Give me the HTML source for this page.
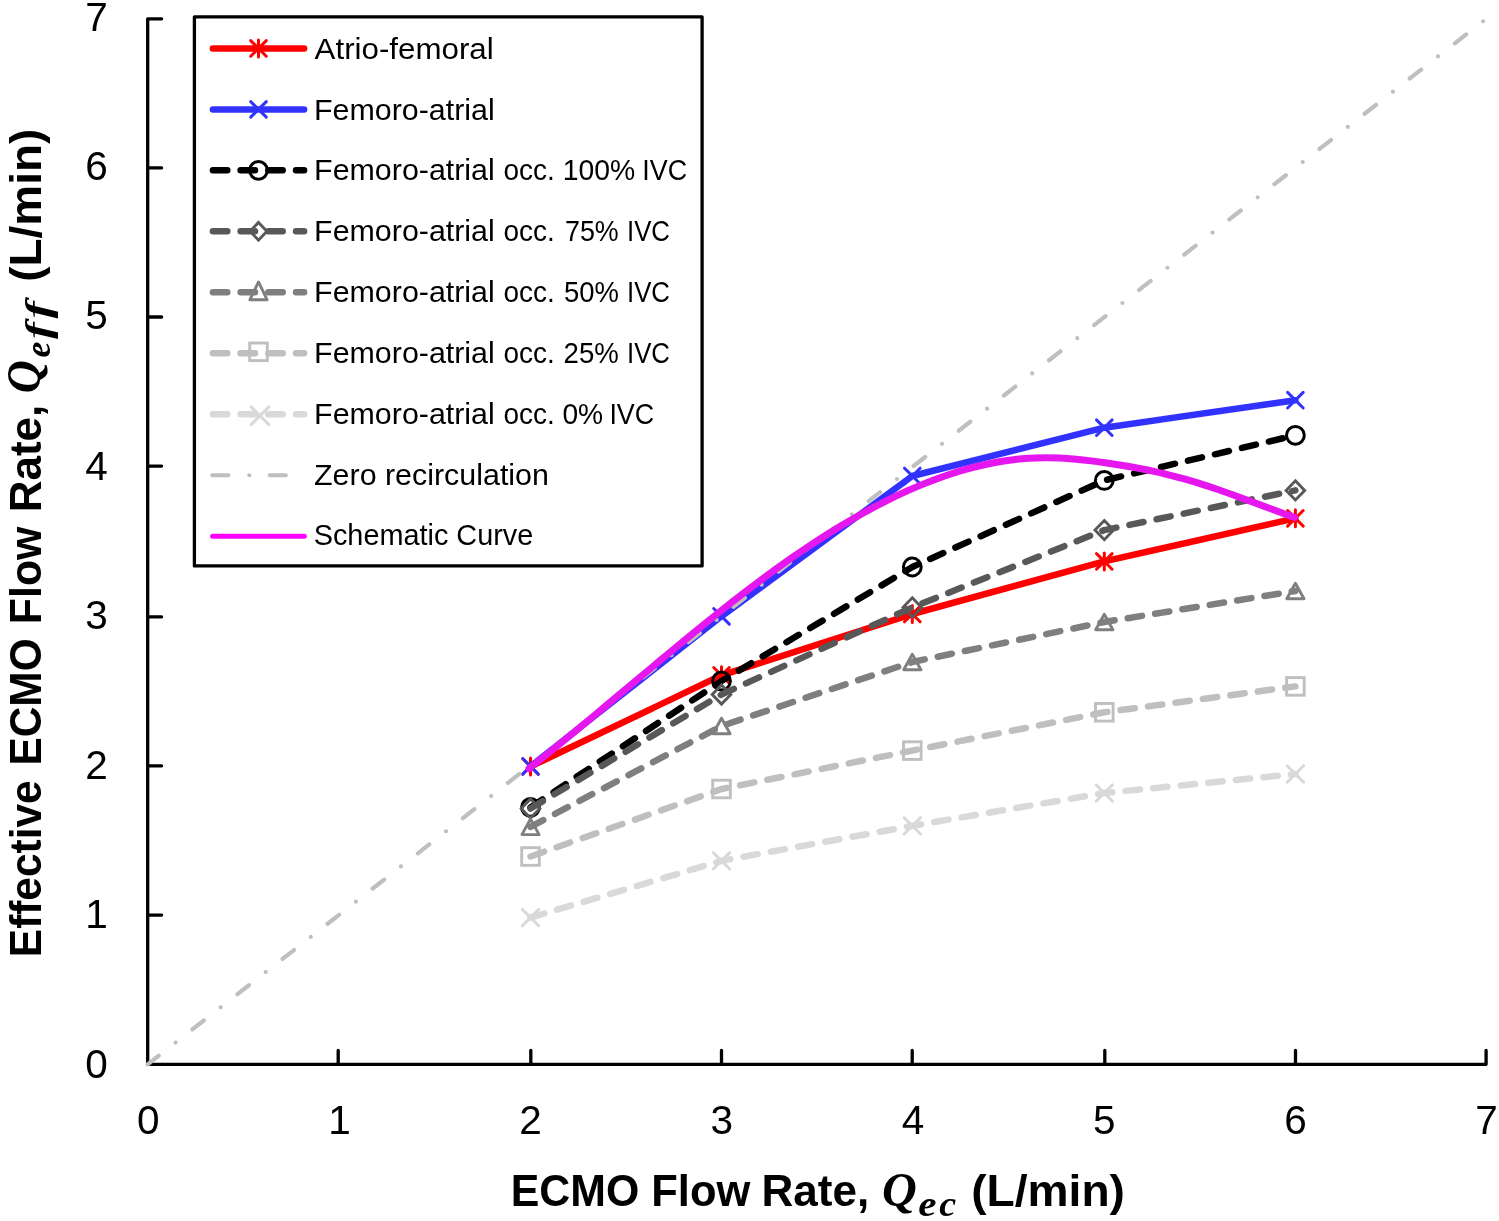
<!DOCTYPE html>
<html><head><meta charset="utf-8"><style>
html,body{margin:0;padding:0;background:#fff;width:1499px;height:1221px;overflow:hidden}
svg{display:block}

</style></head><body>
<svg width="1499" height="1221" viewBox="0 0 1499 1221">
<defs><filter id="soft" x="0" y="0" width="1499" height="1221" filterUnits="userSpaceOnUse"><feGaussianBlur stdDeviation="0.5"/></filter></defs>
<rect width="1499" height="1221" fill="#fff"/>
<g filter="url(#soft)">
<path d="M161.60,18.85 H147.70 V1064.30 H1486.10 V1050.50 M147.70,915.10 h13.9 M338.20,1064.30 v-13.8 M147.70,765.80 h13.9 M530.80,1064.30 v-13.8 M147.70,616.80 h13.9 M721.50,1064.30 v-13.8 M147.70,466.10 h13.9 M912.20,1064.30 v-13.8 M147.70,317.00 h13.9 M1104.80,1064.30 v-13.8 M147.70,167.90 h13.9 M1295.50,1064.30 v-13.8" fill="none" stroke="#000" stroke-width="3.3" stroke-linecap="round" stroke-linejoin="round"/>
<text x="107.8" y="1078.03" font-family="Liberation Sans, sans-serif" font-size="40.5" text-anchor="end" fill="#000">0</text>
<text x="148.20" y="1133.6" font-family="Liberation Sans, sans-serif" font-size="40.5" text-anchor="middle" fill="#000">0</text>
<text x="107.8" y="927.73" font-family="Liberation Sans, sans-serif" font-size="40.5" text-anchor="end" fill="#000">1</text>
<text x="339.40" y="1133.6" font-family="Liberation Sans, sans-serif" font-size="40.5" text-anchor="middle" fill="#000">1</text>
<text x="107.8" y="778.73" font-family="Liberation Sans, sans-serif" font-size="40.5" text-anchor="end" fill="#000">2</text>
<text x="530.60" y="1133.6" font-family="Liberation Sans, sans-serif" font-size="40.5" text-anchor="middle" fill="#000">2</text>
<text x="107.8" y="629.13" font-family="Liberation Sans, sans-serif" font-size="40.5" text-anchor="end" fill="#000">3</text>
<text x="721.80" y="1133.6" font-family="Liberation Sans, sans-serif" font-size="40.5" text-anchor="middle" fill="#000">3</text>
<text x="107.8" y="480.03" font-family="Liberation Sans, sans-serif" font-size="40.5" text-anchor="end" fill="#000">4</text>
<text x="913.00" y="1133.6" font-family="Liberation Sans, sans-serif" font-size="40.5" text-anchor="middle" fill="#000">4</text>
<text x="107.8" y="329.38" font-family="Liberation Sans, sans-serif" font-size="40.5" text-anchor="end" fill="#000">5</text>
<text x="1104.20" y="1133.6" font-family="Liberation Sans, sans-serif" font-size="40.5" text-anchor="middle" fill="#000">5</text>
<text x="107.8" y="179.83" font-family="Liberation Sans, sans-serif" font-size="40.5" text-anchor="end" fill="#000">6</text>
<text x="1295.40" y="1133.6" font-family="Liberation Sans, sans-serif" font-size="40.5" text-anchor="middle" fill="#000">6</text>
<text x="107.8" y="30.98" font-family="Liberation Sans, sans-serif" font-size="40.5" text-anchor="end" fill="#000">7</text>
<text x="1486.60" y="1133.6" font-family="Liberation Sans, sans-serif" font-size="40.5" text-anchor="middle" fill="#000">7</text>
<g fill="#000"><text x="510.74" y="1206.20" font-family="Liberation Sans, sans-serif" font-weight="bold" font-style="normal" font-size="44.8" textLength="128.46" lengthAdjust="spacingAndGlyphs" style="font-variant-ligatures:none;font-kerning:none" >ECMO</text><text x="651.29" y="1206.20" font-family="Liberation Sans, sans-serif" font-weight="bold" font-style="normal" font-size="44.8" textLength="99.02" lengthAdjust="spacingAndGlyphs" style="font-variant-ligatures:none;font-kerning:none" >Flow</text><text x="761.45" y="1206.20" font-family="Liberation Sans, sans-serif" font-weight="bold" font-style="normal" font-size="44.8" textLength="107.69" lengthAdjust="spacingAndGlyphs" style="font-variant-ligatures:none;font-kerning:none" >Rate,</text><text x="882.06" y="1205.80" font-family="Liberation Serif, serif" font-weight="bold" font-style="italic" font-size="48" textLength="34.81" lengthAdjust="spacingAndGlyphs" style="font-variant-ligatures:none;font-kerning:none" >Q</text><text x="918.34" y="1216.00" font-family="Liberation Serif, serif" font-weight="bold" font-style="italic" font-size="35" textLength="18.27" lengthAdjust="spacingAndGlyphs" style="font-variant-ligatures:none;font-kerning:none" >e</text><text x="939.34" y="1216.00" font-family="Liberation Serif, serif" font-weight="bold" font-style="italic" font-size="35" textLength="16.92" lengthAdjust="spacingAndGlyphs" style="font-variant-ligatures:none;font-kerning:none" >c</text><text x="971.20" y="1206.20" font-family="Liberation Sans, sans-serif" font-weight="bold" font-style="normal" font-size="44.8" textLength="153.80" lengthAdjust="spacingAndGlyphs" style="font-variant-ligatures:none;font-kerning:none" >(L/min)</text></g>
<g transform="rotate(-90)" fill="#000"><text x="-957.14" y="40.50" font-family="Liberation Sans, sans-serif" font-weight="bold" font-style="normal" font-size="44.8" textLength="176.68" lengthAdjust="spacingAndGlyphs" style="font-variant-ligatures:none;font-kerning:none" >Effective</text><text x="-765.54" y="40.50" font-family="Liberation Sans, sans-serif" font-weight="bold" font-style="normal" font-size="44.8" textLength="127.22" lengthAdjust="spacingAndGlyphs" style="font-variant-ligatures:none;font-kerning:none" >ECMO</text><text x="-624.16" y="40.50" font-family="Liberation Sans, sans-serif" font-weight="bold" font-style="normal" font-size="44.8" textLength="97.48" lengthAdjust="spacingAndGlyphs" style="font-variant-ligatures:none;font-kerning:none" >Flow</text><text x="-512.34" y="40.50" font-family="Liberation Sans, sans-serif" font-weight="bold" font-style="normal" font-size="44.8" textLength="107.59" lengthAdjust="spacingAndGlyphs" style="font-variant-ligatures:none;font-kerning:none" >Rate,</text><text x="-393.35" y="40.00" font-family="Liberation Serif, serif" font-weight="bold" font-style="italic" font-size="48" textLength="33.05" lengthAdjust="spacingAndGlyphs" style="font-variant-ligatures:none;font-kerning:none" >Q</text><text x="-357.54" y="50.00" font-family="Liberation Serif, serif" font-weight="bold" font-style="italic" font-size="35" textLength="15.82" lengthAdjust="spacingAndGlyphs" style="font-variant-ligatures:none;font-kerning:none" >e</text><text x="-338.90" y="50.00" font-family="Liberation Serif, serif" font-weight="bold" font-style="italic" font-size="35" textLength="16.73" lengthAdjust="spacingAndGlyphs" style="font-variant-ligatures:none;font-kerning:none" >f</text><text x="-318.60" y="50.00" font-family="Liberation Serif, serif" font-weight="bold" font-style="italic" font-size="35" textLength="17.29" lengthAdjust="spacingAndGlyphs" style="font-variant-ligatures:none;font-kerning:none" >f</text><text x="-281.68" y="40.50" font-family="Liberation Sans, sans-serif" font-weight="bold" font-style="normal" font-size="44.8" textLength="152.87" lengthAdjust="spacingAndGlyphs" style="font-variant-ligatures:none;font-kerning:none" >(L/min)</text></g>
<path d="M530.50,766.50 L721.50,675.30 L912.30,614.00 L1104.30,561.40 L1295.40,518.30" fill="none" stroke="#ff0000" stroke-width="6.5" stroke-linecap="round" stroke-linejoin="round"/>
<path d="M522.70,758.70 L538.30,774.30 M522.70,774.30 L538.30,758.70 M530.50,758.00 V775.00" stroke="#ff0000" stroke-width="3.0" stroke-linecap="round" fill="none"/>
<path d="M713.70,667.50 L729.30,683.10 M713.70,683.10 L729.30,667.50 M721.50,666.80 V683.80" stroke="#ff0000" stroke-width="3.0" stroke-linecap="round" fill="none"/>
<path d="M904.50,606.20 L920.10,621.80 M904.50,621.80 L920.10,606.20 M912.30,605.50 V622.50" stroke="#ff0000" stroke-width="3.0" stroke-linecap="round" fill="none"/>
<path d="M1096.50,553.60 L1112.10,569.20 M1096.50,569.20 L1112.10,553.60 M1104.30,552.90 V569.90" stroke="#ff0000" stroke-width="3.0" stroke-linecap="round" fill="none"/>
<path d="M1287.60,510.50 L1303.20,526.10 M1287.60,526.10 L1303.20,510.50 M1295.40,509.80 V526.80" stroke="#ff0000" stroke-width="3.0" stroke-linecap="round" fill="none"/>
<path d="M530.50,766.30 L721.50,616.30 L912.30,476.00 L1104.30,427.70 L1295.40,400.20" fill="none" stroke="#3333ff" stroke-width="6.5" stroke-linecap="round" stroke-linejoin="round"/>
<path d="M522.70,758.50 L538.30,774.10 M522.70,774.10 L538.30,758.50" stroke="#3333ff" stroke-width="3.0" stroke-linecap="round" fill="none"/>
<path d="M713.70,608.50 L729.30,624.10 M713.70,624.10 L729.30,608.50" stroke="#3333ff" stroke-width="3.0" stroke-linecap="round" fill="none"/>
<path d="M904.50,468.20 L920.10,483.80 M904.50,483.80 L920.10,468.20" stroke="#3333ff" stroke-width="3.0" stroke-linecap="round" fill="none"/>
<path d="M1096.50,419.90 L1112.10,435.50 M1096.50,435.50 L1112.10,419.90" stroke="#3333ff" stroke-width="3.0" stroke-linecap="round" fill="none"/>
<path d="M1287.60,392.40 L1303.20,408.00 M1287.60,408.00 L1303.20,392.40" stroke="#3333ff" stroke-width="3.0" stroke-linecap="round" fill="none"/>
<path d="M530.50,807.40 L721.50,681.00 L912.30,567.00 L1104.30,480.40 L1295.40,435.30" fill="none" stroke="#000000" stroke-width="6.5" stroke-linecap="round" stroke-linejoin="round" stroke-dasharray="14.4 13.3"/>
<circle cx="530.50" cy="807.40" r="8.9" stroke="#000000" stroke-width="3.0" fill="none"/>
<circle cx="721.50" cy="681.00" r="8.9" stroke="#000000" stroke-width="3.0" fill="none"/>
<circle cx="912.30" cy="567.00" r="8.9" stroke="#000000" stroke-width="3.0" fill="none"/>
<circle cx="1104.30" cy="480.40" r="8.9" stroke="#000000" stroke-width="3.0" fill="none"/>
<circle cx="1295.40" cy="435.30" r="8.9" stroke="#000000" stroke-width="3.0" fill="none"/>
<path d="M530.50,808.50 L721.50,694.50 L912.30,607.40 L1104.30,530.10 L1295.40,490.40" fill="none" stroke="#595959" stroke-width="6.5" stroke-linecap="round" stroke-linejoin="round" stroke-dasharray="14.4 13.3"/>
<path d="M530.50,798.90 L539.80,808.50 L530.50,818.10 L521.20,808.50 Z" stroke="#595959" stroke-width="2.9" fill="none" stroke-linejoin="miter"/>
<path d="M721.50,684.90 L730.80,694.50 L721.50,704.10 L712.20,694.50 Z" stroke="#595959" stroke-width="2.9" fill="none" stroke-linejoin="miter"/>
<path d="M912.30,597.80 L921.60,607.40 L912.30,617.00 L903.00,607.40 Z" stroke="#595959" stroke-width="2.9" fill="none" stroke-linejoin="miter"/>
<path d="M1104.30,520.50 L1113.60,530.10 L1104.30,539.70 L1095.00,530.10 Z" stroke="#595959" stroke-width="2.9" fill="none" stroke-linejoin="miter"/>
<path d="M1295.40,480.80 L1304.70,490.40 L1295.40,500.00 L1286.10,490.40 Z" stroke="#595959" stroke-width="2.9" fill="none" stroke-linejoin="miter"/>
<path d="M530.50,826.80 L721.50,726.00 L912.30,662.00 L1104.30,622.00 L1295.40,591.00" fill="none" stroke="#7f7f7f" stroke-width="6.5" stroke-linecap="round" stroke-linejoin="round" stroke-dasharray="14.4 13.3"/>
<path d="M530.50,819.00 L539.10,834.60 L521.90,834.60 Z" stroke="#7f7f7f" stroke-width="2.9" fill="none" stroke-linejoin="round"/>
<path d="M721.50,718.20 L730.10,733.80 L712.90,733.80 Z" stroke="#7f7f7f" stroke-width="2.9" fill="none" stroke-linejoin="round"/>
<path d="M912.30,654.20 L920.90,669.80 L903.70,669.80 Z" stroke="#7f7f7f" stroke-width="2.9" fill="none" stroke-linejoin="round"/>
<path d="M1104.30,614.20 L1112.90,629.80 L1095.70,629.80 Z" stroke="#7f7f7f" stroke-width="2.9" fill="none" stroke-linejoin="round"/>
<path d="M1295.40,583.20 L1304.00,598.80 L1286.80,598.80 Z" stroke="#7f7f7f" stroke-width="2.9" fill="none" stroke-linejoin="round"/>
<path d="M530.50,856.50 L721.50,789.00 L912.30,750.60 L1104.30,712.30 L1295.40,686.40" fill="none" stroke="#bfbfbf" stroke-width="6.5" stroke-linecap="round" stroke-linejoin="round" stroke-dasharray="14.4 13.3"/>
<rect x="521.70" y="847.70" width="17.60" height="17.60" stroke="#bfbfbf" stroke-width="2.9" fill="none"/>
<rect x="712.70" y="780.20" width="17.60" height="17.60" stroke="#bfbfbf" stroke-width="2.9" fill="none"/>
<rect x="903.50" y="741.80" width="17.60" height="17.60" stroke="#bfbfbf" stroke-width="2.9" fill="none"/>
<rect x="1095.50" y="703.50" width="17.60" height="17.60" stroke="#bfbfbf" stroke-width="2.9" fill="none"/>
<rect x="1286.60" y="677.60" width="17.60" height="17.60" stroke="#bfbfbf" stroke-width="2.9" fill="none"/>
<path d="M530.50,917.60 L721.50,860.80 L912.30,825.80 L1104.30,793.00 L1295.40,774.00" fill="none" stroke="#d9d9d9" stroke-width="6.5" stroke-linecap="round" stroke-linejoin="round" stroke-dasharray="14.4 13.3"/>
<path d="M522.30,909.40 L538.70,925.80 M522.30,925.80 L538.70,909.40" stroke="#d9d9d9" stroke-width="3.0" stroke-linecap="round" fill="none"/>
<path d="M713.30,852.60 L729.70,869.00 M713.30,869.00 L729.70,852.60" stroke="#d9d9d9" stroke-width="3.0" stroke-linecap="round" fill="none"/>
<path d="M904.10,817.60 L920.50,834.00 M904.10,834.00 L920.50,817.60" stroke="#d9d9d9" stroke-width="3.0" stroke-linecap="round" fill="none"/>
<path d="M1096.10,784.80 L1112.50,801.20 M1096.10,801.20 L1112.50,784.80" stroke="#d9d9d9" stroke-width="3.0" stroke-linecap="round" fill="none"/>
<path d="M1287.20,765.80 L1303.60,782.20 M1287.20,782.20 L1303.60,765.80" stroke="#d9d9d9" stroke-width="3.0" stroke-linecap="round" fill="none"/>
<path d="M147.70,1064.30 L1486.10,18.85" stroke="#bfbfbf" stroke-width="4.2" stroke-linecap="round" fill="none" stroke-dasharray="14.5 21.355 0 21.355" stroke-dashoffset="0.51"/>
<path d="M529.00,768.50 C531.60,766.44 539.41,760.28 544.62,756.12 C549.83,751.96 555.03,747.76 560.24,743.53 C565.45,739.30 570.66,735.03 575.87,730.75 C581.08,726.47 586.28,722.15 591.49,717.83 C596.70,713.51 601.90,709.16 607.11,704.81 C612.32,700.46 617.52,696.09 622.73,691.73 C627.94,687.37 633.15,683.00 638.36,678.64 C643.57,674.28 648.77,669.92 653.98,665.57 C659.19,661.23 664.39,656.89 669.60,652.57 C674.81,648.25 680.01,643.95 685.22,639.68 C690.43,635.41 695.64,631.15 700.85,626.93 C706.06,622.71 711.26,618.53 716.47,614.38 C721.68,610.23 726.88,606.11 732.09,602.05 C737.30,597.99 742.50,593.96 747.71,590.00 C752.92,586.04 758.13,582.12 763.34,578.27 C768.55,574.42 773.75,570.62 778.96,566.89 C784.17,563.16 789.37,559.49 794.58,555.90 C799.79,552.31 804.99,548.78 810.20,545.33 C815.41,541.88 820.62,538.51 825.83,535.22 C831.04,531.93 836.24,528.71 841.45,525.58 C846.66,522.45 851.86,519.40 857.07,516.45 C862.28,513.50 867.48,510.63 872.69,507.86 C877.90,505.09 883.11,502.41 888.32,499.84 C893.53,497.26 898.73,494.78 903.94,492.41 C909.15,490.04 914.35,487.77 919.56,485.61 C924.77,483.45 929.97,481.40 935.18,479.46 C940.39,477.52 945.60,475.69 950.81,473.99 C956.02,472.29 961.22,470.70 966.43,469.24 C971.64,467.78 976.84,466.43 982.05,465.23 C987.26,464.03 992.46,462.95 997.67,462.03 C1002.88,461.10 1008.09,460.31 1013.30,459.68 C1018.51,459.05 1023.71,458.56 1028.92,458.23 C1034.13,457.90 1039.33,457.74 1044.54,457.72 C1049.75,457.70 1054.95,457.84 1060.16,458.09 C1065.37,458.34 1070.58,458.73 1075.79,459.20 C1081.00,459.67 1086.20,460.25 1091.41,460.89 C1096.62,461.53 1101.82,462.26 1107.03,463.03 C1112.24,463.79 1117.44,464.61 1122.65,465.48 C1127.86,466.35 1133.07,467.28 1138.28,468.27 C1143.49,469.26 1148.69,470.31 1153.90,471.44 C1159.11,472.57 1164.31,473.77 1169.52,475.06 C1174.73,476.35 1179.93,477.73 1185.14,479.20 C1190.35,480.67 1195.56,482.25 1200.77,483.88 C1205.98,485.51 1211.18,487.24 1216.39,489.01 C1221.60,490.78 1226.80,492.62 1232.01,494.48 C1237.22,496.34 1242.42,498.26 1247.63,500.18 C1252.84,502.10 1258.05,504.05 1263.26,505.99 C1268.47,507.93 1273.67,509.88 1278.88,511.80 C1284.09,513.72 1291.90,516.55 1294.50,517.50" stroke="#e619ef" stroke-width="7" stroke-linecap="round" stroke-linejoin="round" fill="none"/>
<rect x="194.4" y="16.9" width="507.7" height="549" fill="#fff" stroke="#000" stroke-width="3.3" stroke-linejoin="round"/>
<text x="314.64" y="58.70" font-family="Liberation Sans, sans-serif" font-weight="normal" font-style="normal" font-size="30" textLength="179.05" lengthAdjust="spacingAndGlyphs" style="font-variant-ligatures:none;font-kerning:none" fill="#000">Atrio-femoral</text>
<path d="M212.9,48.40 H304.1" stroke="#ff0000" stroke-width="6.5" stroke-linecap="round"/><path d="M250.70,40.60 L266.30,56.20 M250.70,56.20 L266.30,40.60 M258.50,39.90 V56.90" stroke="#ff0000" stroke-width="3.0" stroke-linecap="round" fill="none"/>
<text x="314.01" y="119.53" font-family="Liberation Sans, sans-serif" font-weight="normal" font-style="normal" font-size="30" textLength="180.73" lengthAdjust="spacingAndGlyphs" style="font-variant-ligatures:none;font-kerning:none" fill="#000">Femoro-atrial</text>
<path d="M212.9,109.38 H304.1" stroke="#3333ff" stroke-width="6.5" stroke-linecap="round"/><path d="M250.70,101.58 L266.30,117.18 M250.70,117.18 L266.30,101.58" stroke="#3333ff" stroke-width="3.0" stroke-linecap="round" fill="none"/>
<text x="314.11" y="180.36" font-family="Liberation Sans, sans-serif" font-weight="normal" font-style="normal" font-size="30" textLength="180.62" lengthAdjust="spacingAndGlyphs" style="font-variant-ligatures:none;font-kerning:none" fill="#000">Femoro-atrial</text>
<text x="503.52" y="180.36" font-family="Liberation Sans, sans-serif" font-weight="normal" font-style="normal" font-size="30" textLength="51.33" lengthAdjust="spacingAndGlyphs" style="font-variant-ligatures:none;font-kerning:none" fill="#000">occ.</text>
<text x="562.84" y="180.36" font-family="Liberation Sans, sans-serif" font-weight="normal" font-style="normal" font-size="30" textLength="72.47" lengthAdjust="spacingAndGlyphs" style="font-variant-ligatures:none;font-kerning:none" fill="#000">100%</text>
<text x="642.32" y="180.36" font-family="Liberation Sans, sans-serif" font-weight="normal" font-style="normal" font-size="30" textLength="44.80" lengthAdjust="spacingAndGlyphs" style="font-variant-ligatures:none;font-kerning:none" fill="#000">IVC</text>
<path d="M212.9,170.36 H304.1" stroke="#000000" stroke-width="6.5" stroke-linecap="round" stroke-dasharray="14.4 13.3"/>
<circle cx="258.50" cy="170.36" r="8.9" stroke="#000000" stroke-width="3.0" fill="none"/>
<text x="314.11" y="241.19" font-family="Liberation Sans, sans-serif" font-weight="normal" font-style="normal" font-size="30" textLength="180.62" lengthAdjust="spacingAndGlyphs" style="font-variant-ligatures:none;font-kerning:none" fill="#000">Femoro-atrial</text>
<text x="503.52" y="241.19" font-family="Liberation Sans, sans-serif" font-weight="normal" font-style="normal" font-size="30" textLength="51.33" lengthAdjust="spacingAndGlyphs" style="font-variant-ligatures:none;font-kerning:none" fill="#000">occ.</text>
<text x="565.02" y="241.19" font-family="Liberation Sans, sans-serif" font-weight="normal" font-style="normal" font-size="30" textLength="53.73" lengthAdjust="spacingAndGlyphs" style="font-variant-ligatures:none;font-kerning:none" fill="#000">75%</text>
<text x="627.02" y="241.19" font-family="Liberation Sans, sans-serif" font-weight="normal" font-style="normal" font-size="30" textLength="42.96" lengthAdjust="spacingAndGlyphs" style="font-variant-ligatures:none;font-kerning:none" fill="#000">IVC</text>
<path d="M212.9,231.34 H304.1" stroke="#595959" stroke-width="6.5" stroke-linecap="round" stroke-dasharray="14.4 13.3"/>
<path d="M258.50,222.44 L266.90,231.34 L258.50,240.24 L250.10,231.34 Z" stroke="#595959" stroke-width="2.9" fill="none" stroke-linejoin="miter"/>
<text x="314.11" y="302.02" font-family="Liberation Sans, sans-serif" font-weight="normal" font-style="normal" font-size="30" textLength="180.62" lengthAdjust="spacingAndGlyphs" style="font-variant-ligatures:none;font-kerning:none" fill="#000">Femoro-atrial</text>
<text x="503.52" y="302.02" font-family="Liberation Sans, sans-serif" font-weight="normal" font-style="normal" font-size="30" textLength="51.33" lengthAdjust="spacingAndGlyphs" style="font-variant-ligatures:none;font-kerning:none" fill="#000">occ.</text>
<text x="563.90" y="302.02" font-family="Liberation Sans, sans-serif" font-weight="normal" font-style="normal" font-size="30" textLength="54.88" lengthAdjust="spacingAndGlyphs" style="font-variant-ligatures:none;font-kerning:none" fill="#000">50%</text>
<text x="627.02" y="302.02" font-family="Liberation Sans, sans-serif" font-weight="normal" font-style="normal" font-size="30" textLength="42.96" lengthAdjust="spacingAndGlyphs" style="font-variant-ligatures:none;font-kerning:none" fill="#000">IVC</text>
<path d="M212.9,292.32 H304.1" stroke="#7f7f7f" stroke-width="6.5" stroke-linecap="round" stroke-dasharray="14.4 13.3"/>
<path d="M258.50,281.97 L267.15,299.77 L249.85,299.77 Z" stroke="#7f7f7f" stroke-width="2.9" fill="none" stroke-linejoin="round"/>
<text x="314.11" y="362.85" font-family="Liberation Sans, sans-serif" font-weight="normal" font-style="normal" font-size="30" textLength="180.62" lengthAdjust="spacingAndGlyphs" style="font-variant-ligatures:none;font-kerning:none" fill="#000">Femoro-atrial</text>
<text x="503.52" y="362.85" font-family="Liberation Sans, sans-serif" font-weight="normal" font-style="normal" font-size="30" textLength="51.33" lengthAdjust="spacingAndGlyphs" style="font-variant-ligatures:none;font-kerning:none" fill="#000">occ.</text>
<text x="563.61" y="362.85" font-family="Liberation Sans, sans-serif" font-weight="normal" font-style="normal" font-size="30" textLength="55.17" lengthAdjust="spacingAndGlyphs" style="font-variant-ligatures:none;font-kerning:none" fill="#000">25%</text>
<text x="627.02" y="362.85" font-family="Liberation Sans, sans-serif" font-weight="normal" font-style="normal" font-size="30" textLength="42.96" lengthAdjust="spacingAndGlyphs" style="font-variant-ligatures:none;font-kerning:none" fill="#000">IVC</text>
<path d="M212.9,353.30 H304.1" stroke="#bfbfbf" stroke-width="6.5" stroke-linecap="round" stroke-dasharray="14.4 13.3"/>
<rect x="249.70" y="343.00" width="17.60" height="17.60" stroke="#bfbfbf" stroke-width="2.9" fill="none"/>
<text x="314.11" y="423.68" font-family="Liberation Sans, sans-serif" font-weight="normal" font-style="normal" font-size="30" textLength="180.62" lengthAdjust="spacingAndGlyphs" style="font-variant-ligatures:none;font-kerning:none" fill="#000">Femoro-atrial</text>
<text x="503.52" y="423.68" font-family="Liberation Sans, sans-serif" font-weight="normal" font-style="normal" font-size="30" textLength="51.33" lengthAdjust="spacingAndGlyphs" style="font-variant-ligatures:none;font-kerning:none" fill="#000">occ.</text>
<text x="562.40" y="423.68" font-family="Liberation Sans, sans-serif" font-weight="normal" font-style="normal" font-size="30" textLength="40.70" lengthAdjust="spacingAndGlyphs" style="font-variant-ligatures:none;font-kerning:none" fill="#000">0%</text>
<text x="609.42" y="423.68" font-family="Liberation Sans, sans-serif" font-weight="normal" font-style="normal" font-size="30" textLength="44.80" lengthAdjust="spacingAndGlyphs" style="font-variant-ligatures:none;font-kerning:none" fill="#000">IVC</text>
<path d="M212.9,414.28 H304.1" stroke="#d9d9d9" stroke-width="6.5" stroke-linecap="round" stroke-dasharray="14.4 13.3"/>
<path d="M251.10,406.88 L268.90,424.68 M251.10,424.68 L268.90,406.88" stroke="#d9d9d9" stroke-width="3.0" stroke-linecap="round" fill="none"/>
<text x="314.03" y="484.51" font-family="Liberation Sans, sans-serif" font-weight="normal" font-style="normal" font-size="30" textLength="234.94" lengthAdjust="spacingAndGlyphs" style="font-variant-ligatures:none;font-kerning:none" fill="#000">Zero recirculation</text>
<path d="M212.2,475.26 H285.8" stroke="#bfbfbf" stroke-width="4.2" stroke-linecap="round" stroke-dasharray="16.1 21 0 20.4"/>
<text x="313.69" y="545.34" font-family="Liberation Sans, sans-serif" font-weight="normal" font-style="normal" font-size="30" textLength="219.59" lengthAdjust="spacingAndGlyphs" style="font-variant-ligatures:none;font-kerning:none" fill="#000">Schematic Curve</text>
<path d="M212.6,536.24 H304.3" stroke="#ff00ff" stroke-width="5" stroke-linecap="round"/>
</g>
</svg>
</body></html>
